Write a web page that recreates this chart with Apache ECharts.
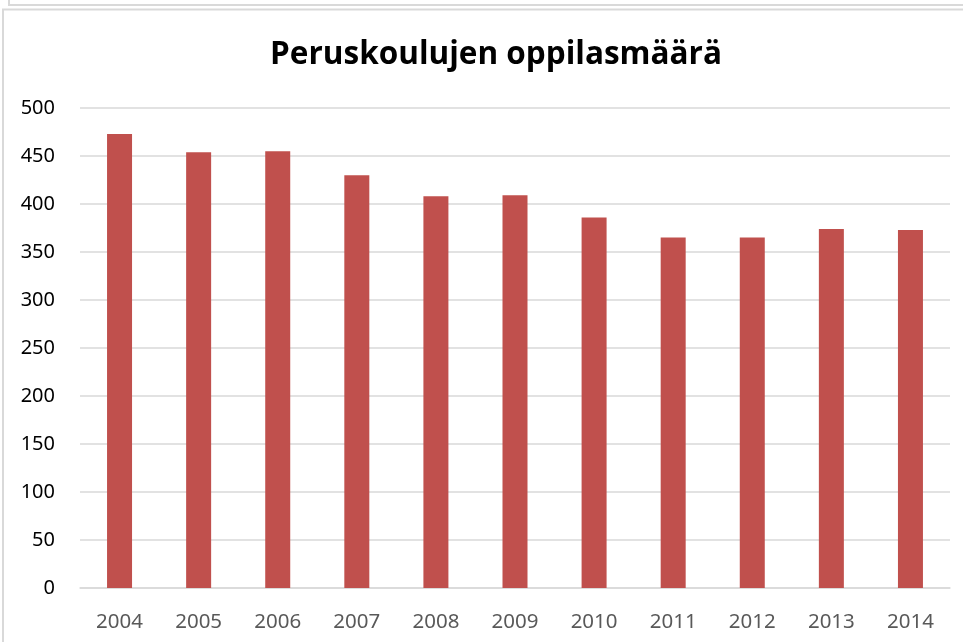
<!DOCTYPE html>
<html>
<head>
<meta charset="utf-8">
<script src="https://cdn.jsdelivr.net/npm/echarts@6/dist/echarts.min.js"></script>
<style>
  html, body { margin: 0; padding: 0; background: #fff; }
  #chart { width: 963px; height: 642px; }
</style>
</head>
<body>
<div id="chart"></div>
<script>
// vuodet ja oppilasmäärät (luettu kuvasta)
var years = ["2004", "2005", "2006", "2007", "2008", "2009", "2010", "2011", "2012", "2013", "2014"];
var pupils = [473, 454, 455, 430, 408, 409, 386, 365, 365, 374, 373];
var yTicks = [0, 50, 100, 150, 200, 250, 300, 350, 400, 450, 500];

var chart = echarts.init(document.getElementById("chart"));
var frameColor = "#D9D9D9";

chart.setOption({
  animation: false,
  title: {
    text: "Peruskoulujen oppilasmäärä",
    left: 491,
    textAlign: "center",
    top: 34,
    textStyle: {
      fontFamily: "Open Sans",
      fontWeight: "bold",
      fontSize: 31.5,
      color: "#000"
    }
  },
  // kehykset (edellisen kaavion alareuna + tämän kaavion reuna)
  graphic: [
    {
      type: "polyline",
      shape: { points: [[9, 0], [9, 5], [963, 5]] },
      style: { stroke: frameColor, lineWidth: 2, fill: null }
    },
    {
      type: "polyline",
      shape: { points: [[3, 642], [3, 9.5], [963, 9.5]] },
      style: { stroke: frameColor, lineWidth: 2, fill: null }
    }
  ],
  grid: {
    left: 80,
    right: 13,
    top: 108,
    bottom: 54
  },
  xAxis: {
    type: "category",
    data: years,
    axisTick: { show: false },
    axisLine: {
      lineStyle: { color: frameColor, width: 1.5 }
    },
    axisLabel: {
      margin: 24,
      fontFamily: "Noto Sans",
      fontSize: 20.5,
      color: "#595959"
    }
  },
  yAxis: {
    type: "value",
    min: yTicks[0],
    max: yTicks[yTicks.length - 1],
    interval: 50,
    axisLine: { show: false },
    axisTick: { show: false },
    splitLine: {
      lineStyle: { color: frameColor, width: 1.5 }
    },
    axisLabel: {
      margin: 25,
      fontFamily: "Noto Sans",
      fontSize: 20,
      color: "#000"
    }
  },
  series: [
    {
      type: "bar",
      data: pupils,
      barWidth: 25,
      itemStyle: { color: "#C0504D" }
    }
  ]
});
</script>
</body>
</html>
